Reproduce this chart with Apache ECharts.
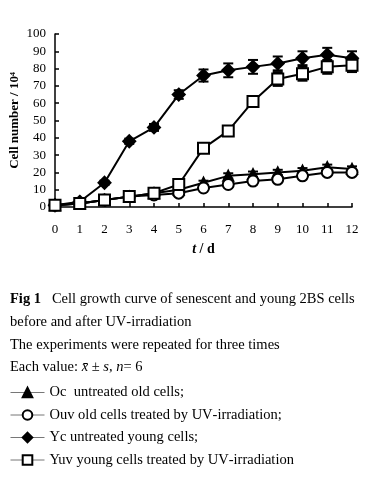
<!DOCTYPE html>
<html><head><meta charset="utf-8">
<script src="https://cdn.jsdelivr.net/npm/echarts@6/dist/echarts.min.js"></script>
<style>html,body{margin:0;padding:0;background:#fff}#c{width:372px;height:478px}</style>
</head><body><div id="c"></div>
<script>
const days = [0,1,2,3,4,5,6,7,8,9,10,11,12];
const yTicks = [0,10,20,30,40,50,60,70,80,90,100];
const ocVals  = [1,2,4,6,8,10,14,18,19,20,21,23,22];
const ouvVals = [1,2,4,6,7,8,11,13,15,16,18,20,20];
const ycVals  = [1,3,14,38,46,65,76,79,81,83,86,88,86];
const yuvVals = [1,2,4,6,8,13,34,44,61,74,77,81,82];
const ocErr  = [0.5,0.5,0.8,1,1,1,1.2,1.5,1.5,1.5,1.5,1.5,1.5];
const ouvErr = [0.5,0.5,0.8,1,1,1,1.2,1.5,1.5,1.5,1.5,1.5,1.5];
const ycErr  = [0.5,0.8,1.2,1.5,2,2.5,3.5,4,4,4,4,4,4];
const yuvErr = [0.5,0.5,0.8,1,1,1.2,1.5,1.5,2,4,4,4,4];
const names = ['Oc','Ouv','Yc','Yuv'];
const legendText = {
  'Oc':'Oc  untreated old cells;',
  'Ouv':'Ouv old cells treated by UV\u2011irradiation;',
  'Yc':'Yc untreated young cells;',
  'Yuv':'Yuv young cells treated by UV\u2011irradiation'
};
const captionLines = [
  'Cell growth curve of senescent and young 2BS cells',
  'before and after UV\u2011irradiation',
  'The experiments were repeated for three times'
];
const SERIF = '"Liberation Serif","DejaVu Serif",serif';
const CAP = 14.5;

function pts(v){ return days.map((d,i)=>[d,v[i]]); }
function errData(v,e){ return days.map((d,i)=>[d,v[i]-e[i],v[i]+e[i]]); }
function errSeries(v,e){
  return {
    type:'custom', silent:true, z:1,
    data: errData(v,e),
    renderItem:function(params, api){
      const x = api.value(0);
      const lo = api.coord([x, api.value(1)]);
      const hi = api.coord([x, api.value(2)]);
      const hw = 5;
      const st = {stroke:'#000', lineWidth:2};
      return {type:'group', children:[
        {type:'line', shape:{x1:lo[0],y1:lo[1],x2:hi[0],y2:hi[1]}, style:st},
        {type:'line', shape:{x1:lo[0]-hw,y1:lo[1],x2:lo[0]+hw,y2:lo[1]}, style:st},
        {type:'line', shape:{x1:hi[0]-hw,y1:hi[1],x2:hi[0]+hw,y2:hi[1]}, style:st}
      ]};
    }
  };
}
function lineSeries(name, v, symbol, size, filled){
  return {
    name:name, type:'line', data:pts(v), z:3,
    symbol:symbol, symbolSize:size, showAllSymbol:true,
    lineStyle:{color:'#000', width:2},
    itemStyle:{color: filled ? '#000' : '#fff', borderColor:'#000', borderWidth:2},
    emphasis:{disabled:true}
  };
}

const chart = echarts.init(document.getElementById('c'), null, {renderer:'canvas'});
chart.setOption({
  animation:false,
  backgroundColor:'#fff',
  textStyle:{fontFamily:SERIF},
  grid:{left:55, right:20, top:34, bottom:271, outerBoundsMode:'none', containLabel:false},
  xAxis:{
    type:'value', min:0, max:12, interval:1,
    axisLine:{lineStyle:{color:'#000', width:1.5}},
    axisTick:{inside:true, length:4, lineStyle:{color:'#000', width:1.5}},
    axisLabel:{color:'#000', fontSize:13, fontFamily:SERIF, margin:16},
    splitLine:{show:false},
    name:'{i|t} / d', nameLocation:'middle', nameGap:35, nameMoveOverlap:false,
    nameTextStyle:{color:'#000', fontSize:14, fontWeight:'bold', fontFamily:SERIF,
      rich:{i:{fontStyle:'italic', fontWeight:'bold', fontSize:14, fontFamily:SERIF, color:'#000'}}}
  },
  yAxis:{
    type:'value', min:0, max:100, interval:10,
    axisLine:{show:true, lineStyle:{color:'#000', width:1.5}},
    axisTick:{show:true, inside:true, length:4, lineStyle:{color:'#000', width:1.5}},
    axisLabel:{color:'#000', fontSize:13, fontFamily:SERIF, margin:9},
    splitLine:{show:false},
    name:'Cell number / 10\u2074', nameLocation:'middle', nameGap:34, nameMoveOverlap:false,
    nameTextStyle:{color:'#000', fontSize:13, fontWeight:'bold', fontFamily:SERIF}
  },
  legend:{
    orient:'vertical', left:10, top:385, padding:0,
    itemWidth:34, itemHeight:12, itemGap:7.5,
    data:names,
    formatter:function(n){ return legendText[n]; },
    textStyle:{color:'#000', fontSize:CAP, fontFamily:SERIF},
    lineStyle:{color:'#777', width:1},
    selectedMode:false
  },
  series:[
    errSeries(ocVals, ocErr), errSeries(ouvVals, ouvErr),
    errSeries(ycVals, ycErr), errSeries(yuvVals, yuvErr),
    lineSeries('Oc', ocVals, 'triangle', 10, true),
    lineSeries('Ouv', ouvVals, 'circle', 11, false),
    lineSeries('Yc', ycVals, 'diamond', 12, true),
    lineSeries('Yuv', yuvVals, 'rect', 11, false)
  ],
  graphic:[
    {type:'text', left:10, top:292, style:{
      text:'{b|Fig 1}   ' + captionLines[0], fill:'#000', fontSize:CAP, fontFamily:SERIF,
      rich:{b:{fontWeight:'bold', fontSize:CAP, fontFamily:SERIF, fill:'#000'}}}},
    {type:'text', left:10, top:315, style:{text:captionLines[1], fill:'#000', fontSize:CAP, fontFamily:SERIF}},
    {type:'text', left:10, top:338, style:{text:captionLines[2], fill:'#000', fontSize:CAP, fontFamily:SERIF}},
    {type:'text', left:10, top:360, style:{
      text:'Each value: {i|x\u0304} \u00b1 {i|s}, {i|n}= 6', fill:'#000', fontSize:CAP, fontFamily:SERIF,
      rich:{i:{fontStyle:'italic', fontSize:CAP, fontFamily:SERIF, fill:'#000'}}}}
  ]
});
</script></body></html>
